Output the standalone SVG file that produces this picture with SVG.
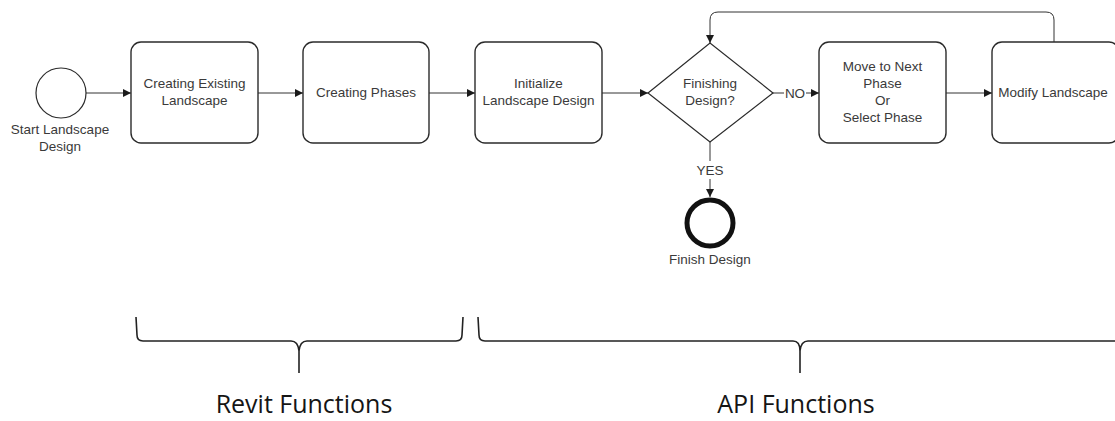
<svg xmlns="http://www.w3.org/2000/svg" width="1115" height="421" viewBox="0 0 1115 421">
  <defs>
    <marker id="arrow" viewBox="0 0 10 10" refX="10" refY="5" markerWidth="10" markerHeight="8" markerUnits="userSpaceOnUse" orient="auto">
      <path d="M0,0 L10,5 L0,10 Z" fill="#1a1a1a"/>
    </marker>
  </defs>
  <style>
    .box { fill: #ffffff; stroke: #2b2b2b; stroke-width: 1.4; }
    .lbl { font-family: "Liberation Sans", Arial, sans-serif; font-size: 13.5px; fill: #3a3a3a; text-anchor: middle; }
    .flow { fill: none; stroke: #333333; stroke-width: 1; }
    .brace { fill: none; stroke: #222222; stroke-width: 1.6; }
    .group { font-family: "Open Sans", "Noto Sans", sans-serif; font-size: 25px; fill: #151515; text-anchor: middle; }
  </style>
  <rect width="1115" height="421" fill="#ffffff"/>

  <!-- connectors -->
  <g id="connectors">
    <line class="flow" x1="86" y1="93" x2="131" y2="93" marker-end="url(#arrow)"/>
    <line class="flow" x1="258" y1="93" x2="303" y2="93" marker-end="url(#arrow)"/>
    <line class="flow" x1="429" y1="93" x2="475" y2="93" marker-end="url(#arrow)"/>
    <line class="flow" x1="602" y1="93" x2="648" y2="93" marker-end="url(#arrow)"/>
    <line class="flow" x1="773" y1="93" x2="784" y2="93"/>
    <text class="lbl" x="795" y="98">NO</text>
    <line class="flow" x1="806" y1="93" x2="819" y2="93" marker-end="url(#arrow)"/>
    <line class="flow" x1="946" y1="93" x2="992" y2="93" marker-end="url(#arrow)"/>
    <path class="flow" d="M1054,42 V20 Q1054,12 1046,12 H718 Q710,12 710,20 V43" marker-end="url(#arrow)"/>
    <line class="flow" x1="710" y1="142" x2="710" y2="161"/>
    <text class="lbl" x="710" y="175">YES</text>
    <line class="flow" x1="710" y1="179" x2="710" y2="197" marker-end="url(#arrow)"/>
  </g>

  <g id="start">
    <circle cx="61" cy="93" r="25" fill="#ffffff" stroke="#2b2b2b" stroke-width="1.2"/>
    <text class="lbl" x="60" y="134">Start Landscape</text>
    <text class="lbl" x="60" y="151">Design</text>
  </g>

  <g id="existing">
    <rect class="box" x="131" y="42" width="127" height="101" rx="10"/>
    <text class="lbl" x="194.5" y="88">Creating Existing</text>
    <text class="lbl" x="194.5" y="105">Landscape</text>
  </g>

  <g id="phases">
    <rect class="box" x="303" y="42" width="126" height="101" rx="10"/>
    <text class="lbl" x="366" y="97">Creating Phases</text>
  </g>

  <g id="initialize">
    <rect class="box" x="475" y="42" width="127" height="101" rx="10"/>
    <text class="lbl" x="538.5" y="88">Initialize</text>
    <text class="lbl" x="538.5" y="105">Landscape Design</text>
  </g>

  <g id="decision">
    <polygon points="648,93 710,43 773,93 710,142" fill="#ffffff" stroke="#2b2b2b" stroke-width="1.2"/>
    <text class="lbl" x="710" y="88">Finishing</text>
    <text class="lbl" x="710" y="105">Design?</text>
  </g>

  <g id="next-phase">
    <rect class="box" x="819" y="42" width="127" height="101" rx="10"/>
    <text class="lbl" x="882.5" y="71">Move to Next</text>
    <text class="lbl" x="882.5" y="88">Phase</text>
    <text class="lbl" x="882.5" y="105">Or</text>
    <text class="lbl" x="882.5" y="122">Select Phase</text>
  </g>

  <g id="modify">
    <rect class="box" x="992" y="42" width="127" height="101" rx="10"/>
    <text class="lbl" x="1053" y="97">Modify Landscape</text>
  </g>

  <g id="finish">
    <circle cx="710" cy="223" r="23" fill="#ffffff" stroke="#111111" stroke-width="5"/>
    <text class="lbl" x="710" y="264">Finish Design</text>
  </g>

  <g id="revit-group">
    <path class="brace" d="M136,317 L137,335 Q137,341 143,341 L291,341 Q298,341 299,351 L299,373 M299,351 Q300,341 307,341 L456,341 Q462,341 462,335 L463,317"/>
    <text class="group" x="304" y="413">Revit Functions</text>
  </g>

  <g id="api-group">
    <path class="brace" d="M478,317 L479,335 Q479,341 485,341 L793,341 Q800,341 800,351 L800,373 M800,351 Q801,341 808,341 L1115,341"/>
    <text class="group" x="796" y="413">API Functions</text>
  </g>
</svg>
